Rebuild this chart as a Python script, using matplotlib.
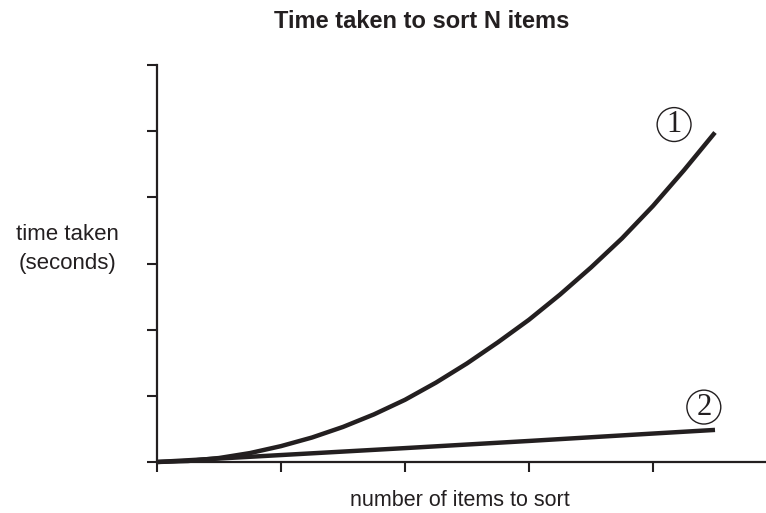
import matplotlib.pyplot as plt

# values (arbitrary units)
n_items = [0, 0.25, 0.5, 0.75, 1, 1.25, 1.5, 1.75, 2, 2.25, 2.5, 2.75,
           3, 3.25, 3.5, 3.75, 4, 4.25, 4.5]
time_1 = [0, 0.015, 0.06, 0.135, 0.24, 0.37, 0.53, 0.72, 0.94, 1.2, 1.49,
          1.81, 2.15, 2.53, 2.94, 3.38, 3.87, 4.41, 4.98]
n_items_2 = [0, 1, 2, 3, 4, 4.5]
time_2 = [0, 0.105, 0.21, 0.318, 0.43, 0.485]

ink = '#231f20'

fig = plt.figure(figsize=(7.66, 5.13), dpi=100)
ax = fig.add_axes([157 / 766, 51 / 513, 1 - 157 / 766, 397 / 513])

ax.plot(n_items, time_1, color=ink, lw=3.2, solid_capstyle='butt',
        solid_joinstyle='round', clip_on=False)
ax.plot(n_items_2, time_2, color=ink, lw=3.2, solid_capstyle='butt',
        solid_joinstyle='round', clip_on=False)

ax.set_xlim(0, 609 / 124)
ax.set_ylim(0, 6)
ax.set_xticks([0, 1, 2, 3, 4])
ax.set_yticks([0, 1, 2, 3, 4, 5, 6])
ax.set_xticklabels([])
ax.set_yticklabels([])
ax.tick_params(direction='out', length=7, width=1.5, color=ink)
for s in ['top', 'right']:
    ax.spines[s].set_visible(False)
for s in ['left', 'bottom']:
    ax.spines[s].set_linewidth(1.6)
    ax.spines[s].set_color(ink)

circ = dict(boxstyle='circle,pad=0.08', fc='white', ec=ink, lw=1)
ax.text(4.17, 5.1, '1', family='Liberation Serif', fontsize=22, color=ink,
        ha='center', va='center', bbox=circ)
ax.text(4.41, 0.83, '2', family='Liberation Serif', fontsize=22, color=ink,
        ha='center', va='center', bbox=circ)

fig.text(422 / 766, 1 - 21 / 513, 'Time taken to sort N items', ha='center',
         va='center', fontsize=17, fontweight='bold', family='Liberation Sans',
         color=ink)
fig.text(67 / 766, 1 - 249 / 513, 'time taken\n(seconds)', ha='center',
         va='center', fontsize=16, family='Liberation Sans', color=ink,
         linespacing=1.55)
fig.text(460 / 766, 1 - 500 / 513, 'number of items to sort', ha='center',
         va='center', fontsize=15.5, family='Liberation Sans', color=ink)

fig.savefig('out.png', dpi=100)
